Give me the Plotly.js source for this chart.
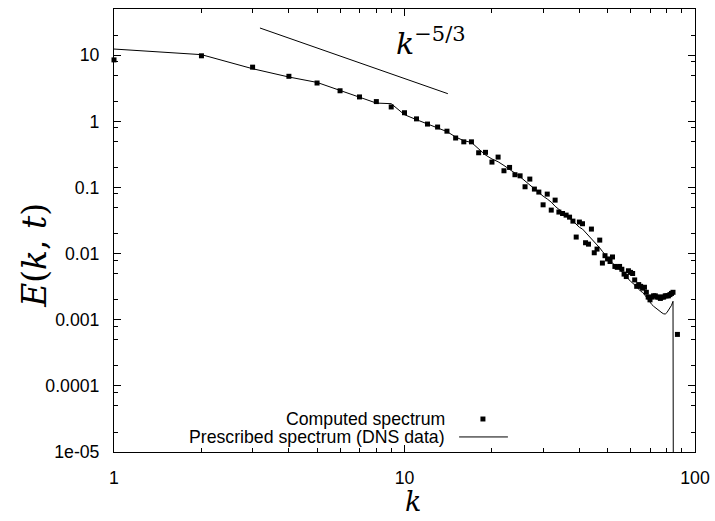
<!DOCTYPE html>
<html>
<head>
<meta charset="utf-8">
<script src="https://cdn.plot.ly/plotly-3.0.1.min.js"></script>
<style>
  html, body { margin: 0; padding: 0; background: #ffffff; }
  #chart { width: 715px; height: 521px; }
</style>
</head>
<body>
<div id="chart"></div>
<script>
// ---- Data ----
// Computed spectrum (square markers)
const computedK = [1, 2, 3, 4, 5, 6, 7, 8, 9, 10,
  11, 12, 13, 14, 15, 16, 17, 18, 19, 20,
  21, 22, 23, 24, 25, 26, 27, 28, 29, 30,
  31, 32, 33, 34, 35, 36, 37, 38, 39, 40,
  41, 42, 43, 44, 45, 46, 47, 48, 49, 50,
  51, 52, 53, 54, 55, 56, 57, 58, 59, 60,
  61, 62, 63, 64, 65, 66, 67, 68, 69, 70,
  71, 72, 73, 74, 75, 76, 77, 78, 79, 80,
  81, 82, 83, 84, 87];
const computedE = [8.5, 9.8, 6.6, 4.8, 3.8, 2.9, 2.34, 1.99, 1.65, 1.35,
  1.09, 0.91, 0.82, 0.71, 0.56, 0.49, 0.49, 0.335, 0.34, 0.242,
  0.288, 0.179, 0.201, 0.156, 0.150, 0.1025, 0.134, 0.0946, 0.0852, 0.0547,
  0.0794, 0.0455, 0.0644, 0.0425, 0.0404, 0.0382, 0.0356, 0.031, 0.0178, 0.030,
  0.0283, 0.0146, 0.0139, 0.0235, 0.0103, 0.0117, 0.016, 0.0072, 0.0093, 0.0083,
  0.0076, 0.0089, 0.0064, 0.0062, 0.0064, 0.0058, 0.0049, 0.0045, 0.0055, 0.0052,
  0.0050, 0.0040, 0.0032, 0.0034, 0.0032, 0.0030, 0.0031, 0.0026, 0.0022, 0.0020,
  0.0022, 0.0023, 0.0023, 0.0022, 0.0022, 0.0021, 0.0022, 0.0022, 0.0023, 0.0023,
  0.0023, 0.0024, 0.0025, 0.0026, 0.0006];

// Prescribed spectrum (DNS data), solid line
const prescribedK = [1, 2, 3, 4, 5, 6, 7, 8, 9, 10,
  11, 12, 13, 14, 15, 16, 17, 18, 19, 20,
  21, 22, 23, 24, 25, 26, 27, 28, 29, 30,
  31, 32, 33, 34, 35, 36, 37, 38, 39, 40,
  41, 42, 43, 44, 45, 46, 47, 48, 49, 50,
  51, 52, 53, 54, 55, 56, 57, 58, 59, 60,
  61, 62, 63, 64, 65, 66, 67, 68, 69, 70,
  71, 72, 73, 74, 75, 76, 77, 78, 79, 80,
  81, 82, 83, 84, 84.5];
const prescribedE = [12.4, 10.2, 6.25, 4.68, 3.88, 2.94, 2.38, 1.89, 1.85, 1.26,
  1.06, 0.92, 0.81, 0.70, 0.58, 0.51, 0.48, 0.38, 0.31, 0.27,
  0.245, 0.215, 0.19, 0.165, 0.145, 0.125, 0.107, 0.094, 0.083, 0.074,
  0.067, 0.060, 0.052, 0.046, 0.042, 0.039, 0.035, 0.031, 0.028, 0.025,
  0.0235, 0.021, 0.019, 0.017, 0.015, 0.0135, 0.0122, 0.0108, 0.0096, 0.0086,
  0.0078, 0.0072, 0.0067, 0.0063, 0.0059, 0.0054, 0.0050, 0.0045, 0.0041, 0.0038,
  0.0036, 0.0033, 0.0031, 0.0029, 0.0027, 0.0026, 0.0024, 0.0022, 0.0020, 0.0018,
  0.0017, 0.0016, 0.00152, 0.00145, 0.0014, 0.00133, 0.00127, 0.00123, 0.00122, 0.00128,
  0.00140, 0.0015, 0.00165, 0.0019, 1e-9];

// k^(-5/3) guide segment
const slopeK = [3.18, 14.1];
const slopeE = [25.8, 2.62];

// Tick labels
const xTickVals = [1, 10, 100];
const xTickText = ['1', '10', '100'];
const yTickVals = [1e-5, 1e-4, 1e-3, 1e-2, 1e-1, 1, 10];
const yTickText = ['1e-05', '0.0001', '0.001', '0.01', '0.1', '1', '10'];
const xMinorVals = [2, 3, 4, 5, 6, 7, 8, 9, 20, 30, 40, 50, 60, 70, 80, 90];
const yMinorVals = [];
[-5, -4, -3, -2, -1, 0, 1].forEach(function (p) {
  [2, 5, 8].forEach(function (m) { yMinorVals.push(m * Math.pow(10, p)); });
});

const legendLabels = ['Computed spectrum', 'Prescribed spectrum (DNS data)'];

// ---- Plot ----
const traces = [
  {
    x: prescribedK, y: prescribedE, type: 'scatter', mode: 'lines',
    name: legendLabels[1],
    line: { color: '#000000', width: 1 },
    showlegend: false, hoverinfo: 'skip'
  },
  {
    x: computedK, y: computedE, type: 'scatter', mode: 'markers',
    name: legendLabels[0],
    marker: { symbol: 'square', size: 5, color: '#000000' },
    showlegend: false, cliponaxis: false
  },
  {
    x: slopeK, y: slopeE, type: 'scatter', mode: 'lines',
    line: { color: '#000000', width: 1 },
    showlegend: false, hoverinfo: 'skip'
  }
];

const tickFont = { family: 'Liberation Sans, Arial, sans-serif', size: 17.7, color: '#000000' };
const mathFont = { family: 'DejaVu Serif, Liberation Serif, serif', color: '#000000' };

// paper conversions for legend placement
const L = { textX: 0.573, row1: 0.0745, row2: 0.034, lineX0: 0.594, lineX1: 0.678, markX: 0.635 };

const layout = {
  width: 715, height: 521,
  margin: { l: 114, r: 20, t: 9, b: 69 },
  paper_bgcolor: '#ffffff', plot_bgcolor: '#ffffff',
  showlegend: false,
  xaxis: {
    type: 'log', range: [0, 2],
    tickmode: 'array', tickvals: xTickVals, ticktext: xTickText,
    ticks: 'inside', ticklen: 7, tickwidth: 1, tickcolor: '#000000',
    minor: { tickmode: 'array', tickvals: xMinorVals, ticks: 'inside', ticklen: 4, tickcolor: '#000000', tickwidth: 1, showgrid: false },
    showline: true, linecolor: '#000000', linewidth: 1, mirror: 'allticks',
    showgrid: false, zeroline: false,
    tickfont: tickFont, ticklabelstandoff: 10
  },
  yaxis: {
    type: 'log', range: [-5, Math.log10(50)],
    tickmode: 'array', tickvals: yTickVals, ticktext: yTickText,
    ticks: 'inside', ticklen: 7, tickwidth: 1, tickcolor: '#000000',
    minor: { tickmode: 'array', tickvals: yMinorVals, ticks: 'inside', ticklen: 4, tickcolor: '#000000', tickwidth: 1, showgrid: false },
    showline: true, linecolor: '#000000', linewidth: 1, mirror: 'allticks',
    showgrid: false, zeroline: false,
    tickfont: tickFont, ticklabelstandoff: 10
  },
  annotations: [
    { xref: 'paper', yref: 'paper', x: 0.5146, y: -0.112, text: '<i>k</i>', borderpad: 0,
      showarrow: false, font: Object.assign({ size: 27 }, mathFont), xanchor: 'center', yanchor: 'middle' },
    { xref: 'paper', yref: 'paper', x: -0.136, y: 0.445, text: '<i>E</i>(<i>k</i>, <i>t</i>)',
      textangle: -90, showarrow: false, font: Object.assign({ size: 33 }, mathFont), xanchor: 'center', yanchor: 'middle' },
    { xref: 'paper', yref: 'paper', x: 0.546, y: 0.926, text: '<i>k</i><sup>−5/3</sup>',
      showarrow: false, font: Object.assign({ size: 30 }, mathFont), xanchor: 'center', yanchor: 'middle' },
    { xref: 'paper', yref: 'paper', x: L.textX, y: L.row1, text: legendLabels[0],
      showarrow: false, font: tickFont, xanchor: 'right', yanchor: 'middle' },
    { xref: 'paper', yref: 'paper', x: L.textX, y: L.row2, text: legendLabels[1],
      showarrow: false, font: tickFont, xanchor: 'right', yanchor: 'middle' }
  ],
  shapes: [
    { type: 'line', xref: 'paper', yref: 'paper', x0: L.lineX0, x1: L.lineX1, y0: L.row2, y1: L.row2,
      line: { color: '#000000', width: 1 } },
    { type: 'rect', xref: 'paper', yref: 'paper', x0: L.markX - 0.0043, x1: L.markX + 0.0043,
      y0: L.row1 - 0.0056, y1: L.row1 + 0.0056, fillcolor: '#000000', line: { width: 0 } }
  ]
};

Plotly.newPlot('chart', traces, layout, { displayModeBar: false, staticPlot: true });
</script>
</body>
</html>
